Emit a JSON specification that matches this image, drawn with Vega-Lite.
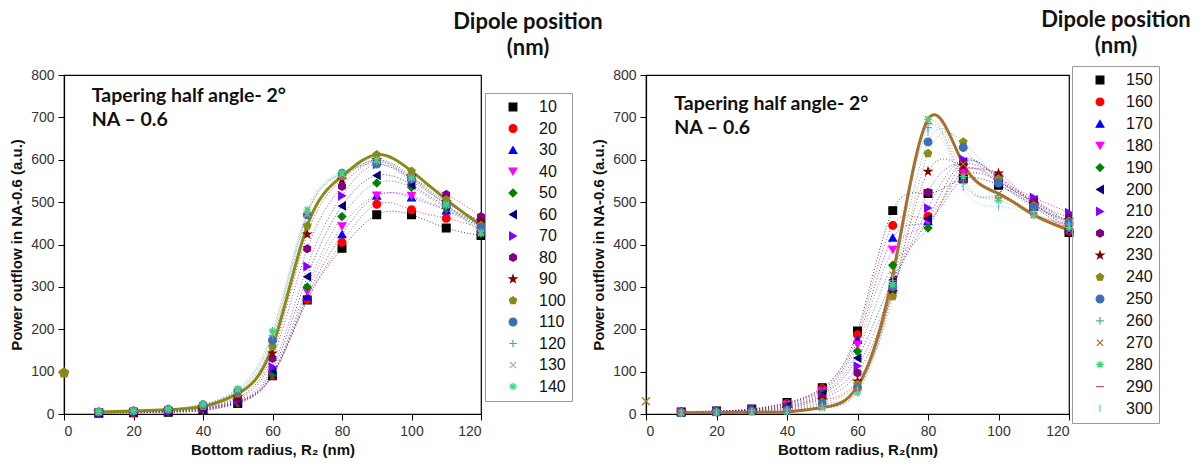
{
  "$schema": "https://vega.github.io/schema/vega-lite/v6.json",
  "background": "white",
  "padding": {"left": 9, "top": 7, "right": 0, "bottom": 0},
  "spacing": -13,
  "datasets": {
    "left": [
      {"pos":10,"radius":10,"power":2},{"pos":10,"radius":20,"power":3},{"pos":10,"radius":30,"power":4},{"pos":10,"radius":40,"power":8},{"pos":10,"radius":50,"power":25},{"pos":10,"radius":60,"power":90},{"pos":10,"radius":70,"power":269},{"pos":10,"radius":80,"power":391},{"pos":10,"radius":90,"power":470},{"pos":10,"radius":100,"power":470},{"pos":10,"radius":110,"power":439},{"pos":10,"radius":120,"power":421},
      {"pos":20,"radius":10,"power":2},{"pos":20,"radius":20,"power":3},{"pos":20,"radius":30,"power":5},{"pos":20,"radius":40,"power":9},{"pos":20,"radius":50,"power":27},{"pos":20,"radius":60,"power":92},{"pos":20,"radius":70,"power":270},{"pos":20,"radius":80,"power":405},{"pos":20,"radius":90,"power":495},{"pos":20,"radius":100,"power":482},{"pos":20,"radius":110,"power":462},{"pos":20,"radius":120,"power":439},
      {"pos":30,"radius":10,"power":3},{"pos":30,"radius":20,"power":4},{"pos":30,"radius":30,"power":5},{"pos":30,"radius":40,"power":10},{"pos":30,"radius":50,"power":28},{"pos":30,"radius":60,"power":94},{"pos":30,"radius":70,"power":277},{"pos":30,"radius":80,"power":424},{"pos":30,"radius":90,"power":515},{"pos":30,"radius":100,"power":511},{"pos":30,"radius":110,"power":480},{"pos":30,"radius":120,"power":440},
      {"pos":40,"radius":10,"power":3},{"pos":40,"radius":20,"power":4},{"pos":40,"radius":30,"power":6},{"pos":40,"radius":40,"power":11},{"pos":40,"radius":50,"power":29},{"pos":40,"radius":60,"power":92},{"pos":40,"radius":70,"power":289},{"pos":40,"radius":80,"power":443},{"pos":40,"radius":90,"power":516},{"pos":40,"radius":100,"power":515},{"pos":40,"radius":110,"power":482},{"pos":40,"radius":120,"power":445},
      {"pos":50,"radius":10,"power":3},{"pos":50,"radius":20,"power":5},{"pos":50,"radius":30,"power":6},{"pos":50,"radius":40,"power":12},{"pos":50,"radius":50,"power":28},{"pos":50,"radius":60,"power":95},{"pos":50,"radius":70,"power":300},{"pos":50,"radius":80,"power":466},{"pos":50,"radius":90,"power":545},{"pos":50,"radius":100,"power":535},{"pos":50,"radius":110,"power":486},{"pos":50,"radius":120,"power":450},
      {"pos":60,"radius":10,"power":3},{"pos":60,"radius":20,"power":5},{"pos":60,"radius":30,"power":7},{"pos":60,"radius":40,"power":13},{"pos":60,"radius":50,"power":30},{"pos":60,"radius":60,"power":103},{"pos":60,"radius":70,"power":324},{"pos":60,"radius":80,"power":491},{"pos":60,"radius":90,"power":563},{"pos":60,"radius":100,"power":541},{"pos":60,"radius":110,"power":490},{"pos":60,"radius":120,"power":452},
      {"pos":70,"radius":10,"power":4},{"pos":70,"radius":20,"power":5},{"pos":70,"radius":30,"power":8},{"pos":70,"radius":40,"power":14},{"pos":70,"radius":50,"power":33},{"pos":70,"radius":60,"power":111},{"pos":70,"radius":70,"power":348},{"pos":70,"radius":80,"power":515},{"pos":70,"radius":90,"power":589},{"pos":70,"radius":100,"power":550},{"pos":70,"radius":110,"power":498},{"pos":70,"radius":120,"power":455},
      {"pos":80,"radius":10,"power":4},{"pos":80,"radius":20,"power":6},{"pos":80,"radius":30,"power":8},{"pos":80,"radius":40,"power":15},{"pos":80,"radius":50,"power":36},{"pos":80,"radius":60,"power":131},{"pos":80,"radius":70,"power":390},{"pos":80,"radius":80,"power":537},{"pos":80,"radius":90,"power":597},{"pos":80,"radius":100,"power":556},{"pos":80,"radius":110,"power":518},{"pos":80,"radius":120,"power":466},
      {"pos":90,"radius":10,"power":4},{"pos":90,"radius":20,"power":6},{"pos":90,"radius":30,"power":9},{"pos":90,"radius":40,"power":16},{"pos":90,"radius":50,"power":40},{"pos":90,"radius":60,"power":143},{"pos":90,"radius":70,"power":424},{"pos":90,"radius":80,"power":553},{"pos":90,"radius":90,"power":600},{"pos":90,"radius":100,"power":561},{"pos":90,"radius":110,"power":500},{"pos":90,"radius":120,"power":455},
      {"pos":100,"radius":10,"power":5},{"pos":100,"radius":20,"power":7},{"pos":100,"radius":30,"power":10},{"pos":100,"radius":40,"power":18},{"pos":100,"radius":50,"power":48},{"pos":100,"radius":60,"power":159},{"pos":100,"radius":70,"power":444},{"pos":100,"radius":80,"power":561},{"pos":100,"radius":90,"power":612},{"pos":100,"radius":100,"power":573},{"pos":100,"radius":110,"power":506},{"pos":100,"radius":120,"power":445},
      {"pos":110,"radius":10,"power":5},{"pos":110,"radius":20,"power":7},{"pos":110,"radius":30,"power":11},{"pos":110,"radius":40,"power":22},{"pos":110,"radius":50,"power":55},{"pos":110,"radius":60,"power":174},{"pos":110,"radius":70,"power":470},{"pos":110,"radius":80,"power":568},{"pos":110,"radius":90,"power":590},{"pos":110,"radius":100,"power":555},{"pos":110,"radius":110,"power":493},{"pos":110,"radius":120,"power":440},
      {"pos":120,"radius":10,"power":5},{"pos":120,"radius":20,"power":7},{"pos":120,"radius":30,"power":11},{"pos":120,"radius":40,"power":22},{"pos":120,"radius":50,"power":56},{"pos":120,"radius":60,"power":185},{"pos":120,"radius":70,"power":474},{"pos":120,"radius":80,"power":565},{"pos":120,"radius":90,"power":595},{"pos":120,"radius":100,"power":555},{"pos":120,"radius":110,"power":493},{"pos":120,"radius":120,"power":430},
      {"pos":130,"radius":10,"power":5},{"pos":130,"radius":20,"power":7},{"pos":130,"radius":30,"power":11},{"pos":130,"radius":40,"power":23},{"pos":130,"radius":50,"power":57},{"pos":130,"radius":60,"power":190},{"pos":130,"radius":70,"power":472},{"pos":130,"radius":80,"power":566},{"pos":130,"radius":90,"power":598},{"pos":130,"radius":100,"power":557},{"pos":130,"radius":110,"power":494},{"pos":130,"radius":120,"power":428},
      {"pos":140,"radius":10,"power":6},{"pos":140,"radius":20,"power":8},{"pos":140,"radius":30,"power":12},{"pos":140,"radius":40,"power":24},{"pos":140,"radius":50,"power":60},{"pos":140,"radius":60,"power":196},{"pos":140,"radius":70,"power":482},{"pos":140,"radius":80,"power":570},{"pos":140,"radius":90,"power":600},{"pos":140,"radius":100,"power":558},{"pos":140,"radius":110,"power":495},{"pos":140,"radius":120,"power":425}
    ],
    "right": [
      {"pos":150,"radius":10,"power":5},{"pos":150,"radius":20,"power":7},{"pos":150,"radius":30,"power":12},{"pos":150,"radius":40,"power":27},{"pos":150,"radius":50,"power":62},{"pos":150,"radius":60,"power":196},{"pos":150,"radius":70,"power":480},{"pos":150,"radius":80,"power":520},{"pos":150,"radius":90,"power":555},{"pos":150,"radius":100,"power":540},{"pos":150,"radius":110,"power":490},{"pos":150,"radius":120,"power":428},
      {"pos":160,"radius":10,"power":5},{"pos":160,"radius":20,"power":7},{"pos":160,"radius":30,"power":11},{"pos":160,"radius":40,"power":25},{"pos":160,"radius":50,"power":60},{"pos":160,"radius":60,"power":187},{"pos":160,"radius":70,"power":445},{"pos":160,"radius":80,"power":467},{"pos":160,"radius":90,"power":574},{"pos":160,"radius":100,"power":545},{"pos":160,"radius":110,"power":495},{"pos":160,"radius":120,"power":432},
      {"pos":170,"radius":10,"power":5},{"pos":170,"radius":20,"power":7},{"pos":170,"radius":30,"power":11},{"pos":170,"radius":40,"power":24},{"pos":170,"radius":50,"power":57},{"pos":170,"radius":60,"power":175},{"pos":170,"radius":70,"power":416},{"pos":170,"radius":80,"power":455},{"pos":170,"radius":90,"power":558},{"pos":170,"radius":100,"power":548},{"pos":170,"radius":110,"power":497},{"pos":170,"radius":120,"power":436},
      {"pos":180,"radius":10,"power":5},{"pos":180,"radius":20,"power":6},{"pos":180,"radius":30,"power":10},{"pos":180,"radius":40,"power":22},{"pos":180,"radius":50,"power":54},{"pos":180,"radius":60,"power":164},{"pos":180,"radius":70,"power":388},{"pos":180,"radius":80,"power":452},{"pos":180,"radius":90,"power":572},{"pos":180,"radius":100,"power":550},{"pos":180,"radius":110,"power":500},{"pos":180,"radius":120,"power":440},
      {"pos":190,"radius":10,"power":4},{"pos":190,"radius":20,"power":6},{"pos":190,"radius":30,"power":10},{"pos":190,"radius":40,"power":20},{"pos":190,"radius":50,"power":50},{"pos":190,"radius":60,"power":148},{"pos":190,"radius":70,"power":351},{"pos":190,"radius":80,"power":439},{"pos":190,"radius":90,"power":590},{"pos":190,"radius":100,"power":552},{"pos":190,"radius":110,"power":502},{"pos":190,"radius":120,"power":445},
      {"pos":200,"radius":10,"power":4},{"pos":200,"radius":20,"power":6},{"pos":200,"radius":30,"power":9},{"pos":200,"radius":40,"power":18},{"pos":200,"radius":50,"power":46},{"pos":200,"radius":60,"power":132},{"pos":200,"radius":70,"power":316},{"pos":200,"radius":80,"power":461},{"pos":200,"radius":90,"power":595},{"pos":200,"radius":100,"power":555},{"pos":200,"radius":110,"power":505},{"pos":200,"radius":120,"power":450},
      {"pos":210,"radius":10,"power":4},{"pos":210,"radius":20,"power":6},{"pos":210,"radius":30,"power":9},{"pos":210,"radius":40,"power":16},{"pos":210,"radius":50,"power":42},{"pos":210,"radius":60,"power":113},{"pos":210,"radius":70,"power":300},{"pos":210,"radius":80,"power":486},{"pos":210,"radius":90,"power":601},{"pos":210,"radius":100,"power":558},{"pos":210,"radius":110,"power":511},{"pos":210,"radius":120,"power":475},
      {"pos":220,"radius":10,"power":4},{"pos":220,"radius":20,"power":5},{"pos":220,"radius":30,"power":8},{"pos":220,"radius":40,"power":14},{"pos":220,"radius":50,"power":38},{"pos":220,"radius":60,"power":97},{"pos":220,"radius":70,"power":290},{"pos":220,"radius":80,"power":523},{"pos":220,"radius":90,"power":592},{"pos":220,"radius":100,"power":560},{"pos":220,"radius":110,"power":500},{"pos":220,"radius":120,"power":465},
      {"pos":230,"radius":10,"power":4},{"pos":230,"radius":20,"power":5},{"pos":230,"radius":30,"power":8},{"pos":230,"radius":40,"power":12},{"pos":230,"radius":50,"power":33},{"pos":230,"radius":60,"power":77},{"pos":230,"radius":70,"power":288},{"pos":230,"radius":80,"power":572},{"pos":230,"radius":90,"power":585},{"pos":230,"radius":100,"power":568},{"pos":230,"radius":110,"power":495},{"pos":230,"radius":120,"power":458},
      {"pos":240,"radius":10,"power":3},{"pos":240,"radius":20,"power":5},{"pos":240,"radius":30,"power":7},{"pos":240,"radius":40,"power":10},{"pos":240,"radius":50,"power":28},{"pos":240,"radius":60,"power":70},{"pos":240,"radius":70,"power":277},{"pos":240,"radius":80,"power":615},{"pos":240,"radius":90,"power":642},{"pos":240,"radius":100,"power":555},{"pos":240,"radius":110,"power":492},{"pos":240,"radius":120,"power":455},
      {"pos":250,"radius":10,"power":3},{"pos":250,"radius":20,"power":5},{"pos":250,"radius":30,"power":7},{"pos":250,"radius":40,"power":9},{"pos":250,"radius":50,"power":24},{"pos":250,"radius":60,"power":62},{"pos":250,"radius":70,"power":300},{"pos":250,"radius":80,"power":642},{"pos":250,"radius":90,"power":629},{"pos":250,"radius":100,"power":545},{"pos":250,"radius":110,"power":488},{"pos":250,"radius":120,"power":452},
      {"pos":260,"radius":10,"power":3},{"pos":260,"radius":20,"power":4},{"pos":260,"radius":30,"power":6},{"pos":260,"radius":40,"power":8},{"pos":260,"radius":50,"power":20},{"pos":260,"radius":60,"power":60},{"pos":260,"radius":70,"power":310},{"pos":260,"radius":80,"power":676},{"pos":260,"radius":90,"power":545},{"pos":260,"radius":100,"power":515},{"pos":260,"radius":110,"power":475},{"pos":260,"radius":120,"power":448},
      {"pos":270,"radius":10,"power":3},{"pos":270,"radius":20,"power":3},{"pos":270,"radius":30,"power":4},{"pos":270,"radius":40,"power":5},{"pos":270,"radius":50,"power":15},{"pos":270,"radius":60,"power":65},{"pos":270,"radius":70,"power":328},{"pos":270,"radius":80,"power":695},{"pos":270,"radius":90,"power":590},{"pos":270,"radius":100,"power":520},{"pos":270,"radius":110,"power":470},{"pos":270,"radius":120,"power":434},
      {"pos":280,"radius":10,"power":3},{"pos":280,"radius":20,"power":4},{"pos":280,"radius":30,"power":5},{"pos":280,"radius":40,"power":6},{"pos":280,"radius":50,"power":15},{"pos":280,"radius":60,"power":50},{"pos":280,"radius":70,"power":305},{"pos":280,"radius":80,"power":695},{"pos":280,"radius":90,"power":560},{"pos":280,"radius":100,"power":504},{"pos":280,"radius":110,"power":468},{"pos":280,"radius":120,"power":440},
      {"pos":290,"radius":10,"power":3},{"pos":290,"radius":20,"power":4},{"pos":290,"radius":30,"power":5},{"pos":290,"radius":40,"power":7},{"pos":290,"radius":50,"power":18},{"pos":290,"radius":60,"power":55},{"pos":290,"radius":70,"power":315},{"pos":290,"radius":80,"power":685},{"pos":290,"radius":90,"power":550},{"pos":290,"radius":100,"power":510},{"pos":290,"radius":110,"power":472},{"pos":290,"radius":120,"power":445},
      {"pos":300,"radius":10,"power":3},{"pos":300,"radius":20,"power":4},{"pos":300,"radius":30,"power":5},{"pos":300,"radius":40,"power":7},{"pos":300,"radius":50,"power":18},{"pos":300,"radius":60,"power":55},{"pos":300,"radius":70,"power":320},{"pos":300,"radius":80,"power":665},{"pos":300,"radius":90,"power":535},{"pos":300,"radius":100,"power":490},{"pos":300,"radius":110,"power":470},{"pos":300,"radius":120,"power":445}
    ],
    "extraL": [{"pos":100,"radius":0,"power":97}],
    "extraR": [{"pos":270,"radius":0,"power":30}],
    "note": [{"label":"Tapering half angle- 2°\nNA – 0.6"}]
  },
  "hconcat": [
    {
      "width": 417,
      "height": 339,
      "title": {"text": ["Dipole position", "(nm)"], "anchor": "end", "frame": "group", "align": "center", "dx": 47, "font": "Lato", "fontSize": 22, "fontWeight": "bold", "lineHeight": 26, "color": "#111", "offset": 8},
      "layer": [
        {
          "data": {"name": "left"},
          "transform": [{"filter": "datum.pos != 100"}],
          "mark": {"type": "line", "interpolate": "natural", "strokeDash": [1, 2], "strokeWidth": 1, "opacity": 0.7, "clip": true},
          "encoding": {
            "x": {"field": "radius", "type": "quantitative", "scale": {"domain": [0, 120], "nice": false},
                  "axis": {"title": "Bottom radius, R₂ (nm)", "values": [0,10,20,30,40,50,60,70,80,90,100,110,120], "labelExpr": "datum.value % 20 === 0 ? datum.label : ''", "tickSize": {"condition": {"test": "datum.value % 20 === 0", "value": 6}, "value": 3}}},
            "y": {"field": "power", "type": "quantitative", "scale": {"domain": [0, 800], "nice": false},
                  "axis": {"title": "Power outflow in NA-0.6 (a.u.)", "values": [0,50,100,150,200,250,300,350,400,450,500,550,600,650,700,750,800], "labelExpr": "datum.value % 100 === 0 ? datum.label : ''", "tickSize": {"condition": {"test": "datum.value % 100 === 0", "value": 6}, "value": 3}}},
            "detail": {"field": "pos", "type": "nominal"},
            "stroke": {"field": "pos", "type": "nominal", "scale": {"domain": [10,20,30,40,50,60,70,80,90,100,110,120,130,140], "range": ["#000000","#FF0000","#0000FF","#FF00FF","#008000","#000080","#8000FF","#800080","#800000","#8A8A18","#3D6FB6","#4AA8A8","#C8A27C","#3ED67A"]}}
          }
        },
        {
          "data": {"name": "left"},
          "transform": [{"filter": "datum.pos == 100"}],
          "mark": {"type": "line", "interpolate": "natural", "strokeWidth": 3, "clip": true},
          "encoding": {
            "x": {"field": "radius", "type": "quantitative"},
            "y": {"field": "power", "type": "quantitative"},
            "stroke": {"field": "pos", "type": "nominal"}
          }
        },
        {
          "data": {"name": "left"},
          "mark": {"type": "point", "opacity": 1, "size": 60, "strokeWidth": 1.2},
          "encoding": {
            "x": {"field": "radius", "type": "quantitative"},
            "y": {"field": "power", "type": "quantitative"},
            "fill": {"field": "pos", "type": "nominal", "scale": {"domain": [10,20,30,40,50,60,70,80,90,100,110,120,130,140], "range": ["#000000","#FF0000","#0000FF","#FF00FF","#008000","#000080","#8000FF","#800080","#800000","#8A8A18","#3D6FB6","#4AA8A8","#C8A27C","#3ED67A"]},
                     "legend": {"orient": "none", "legendX": 421, "legendY": 18, "title": null, "rowPadding": 5.5}},
            "stroke": {"field": "pos", "type": "nominal",
                     "legend": {"orient": "none", "legendX": 421, "legendY": 18, "title": null, "rowPadding": 5.5}},
            "shape": {"field": "pos", "type": "nominal", "scale": {"domain": [10,20,30,40,50,60,70,80,90,100,110,120,130,140], "range": ["square","circle","triangle-up","triangle-down","diamond","triangle-left","triangle-right","M0,-1L0.866,-0.5L0.866,0.5L0,1L-0.866,0.5L-0.866,-0.5Z","M0,-1L0.2245,-0.309L0.951,-0.309L0.363,0.118L0.588,0.809L0,0.382L-0.588,0.809L-0.363,0.118L-0.951,-0.309L-0.2245,-0.309Z","M0,-1L0.951,-0.309L0.588,0.809L-0.588,0.809L-0.951,-0.309Z","circle","M-1,0L1,0M0,-1L0,1","M-0.8,-0.8L0.8,0.8M-0.8,0.8L0.8,-0.8","M-1,0L1,0M0,-1L0,1M-0.7,-0.7L0.7,0.7M-0.7,0.7L0.7,-0.7"]},
                     "legend": {"orient": "none", "legendX": 421, "legendY": 18, "title": null, "rowPadding": 5.5}}
          }
        },
        {
          "data": {"name": "extraL"},
          "mark": {"type": "point", "opacity": 1, "size": 100, "strokeWidth": 1.2},
          "encoding": {
            "x": {"field": "radius", "type": "quantitative"},
            "y": {"field": "power", "type": "quantitative"},
            "fill": {"field": "pos", "type": "nominal"},
            "stroke": {"field": "pos", "type": "nominal"},
            "shape": {"field": "pos", "type": "nominal"}
          }
        },
        {
          "data": {"name": "note"},
          "mark": {"type": "text", "align": "left", "baseline": "top", "font": "Lato", "fontSize": 19.5, "fontWeight": "bold", "lineHeight": 24, "color": "#111", "lineBreak": "\n"},
          "encoding": {
            "x": {"datum": 8},
            "y": {"datum": 772},
            "text": {"field": "label"}
          }
        }
      ]
    },
    {
      "width": 423,
      "height": 339,
      "title": {"text": ["Dipole position", "(nm)"], "anchor": "end", "frame": "group", "align": "center", "dx": 47, "font": "Lato", "fontSize": 22, "fontWeight": "bold", "lineHeight": 26, "color": "#111", "offset": 8},
      "layer": [
        {
          "data": {"name": "right"},
          "transform": [{"filter": "datum.pos != 270"}],
          "mark": {"type": "line", "interpolate": "natural", "strokeDash": [1, 2], "strokeWidth": 1, "opacity": 0.7, "clip": true},
          "encoding": {
            "x": {"field": "radius", "type": "quantitative", "scale": {"domain": [0, 120], "nice": false},
                  "axis": {"title": "Bottom radius, R₂(nm)", "values": [0,10,20,30,40,50,60,70,80,90,100,110,120], "labelExpr": "datum.value % 20 === 0 ? datum.label : ''", "tickSize": {"condition": {"test": "datum.value % 20 === 0", "value": 6}, "value": 3}}},
            "y": {"field": "power", "type": "quantitative", "scale": {"domain": [0, 800], "nice": false},
                  "axis": {"title": "Power outflow in NA-0.6 (a.u.)", "values": [0,50,100,150,200,250,300,350,400,450,500,550,600,650,700,750,800], "labelExpr": "datum.value % 100 === 0 ? datum.label : ''", "tickSize": {"condition": {"test": "datum.value % 100 === 0", "value": 6}, "value": 3}}},
            "detail": {"field": "pos", "type": "nominal"},
            "stroke": {"field": "pos", "type": "nominal", "scale": {"domain": [150,160,170,180,190,200,210,220,230,240,250,260,270,280,290,300], "range": ["#000000","#FF0000","#0000FF","#FF00FF","#008000","#000080","#8000FF","#800080","#800000","#8A8A18","#3D6FB6","#4AA8A8","#A8702C","#3ED67A","#D9476B","#62C6E0"]}}
          }
        },
        {
          "data": {"name": "right"},
          "transform": [{"filter": "datum.pos == 270"}],
          "mark": {"type": "line", "interpolate": "natural", "strokeWidth": 3, "clip": true},
          "encoding": {
            "x": {"field": "radius", "type": "quantitative"},
            "y": {"field": "power", "type": "quantitative"},
            "stroke": {"field": "pos", "type": "nominal"}
          }
        },
        {
          "data": {"name": "right"},
          "mark": {"type": "point", "opacity": 1, "size": 60, "strokeWidth": 1.2},
          "encoding": {
            "x": {"field": "radius", "type": "quantitative"},
            "y": {"field": "power", "type": "quantitative"},
            "fill": {"field": "pos", "type": "nominal", "scale": {"domain": [150,160,170,180,190,200,210,220,230,240,250,260,270,280,290,300], "range": ["#000000","#FF0000","#0000FF","#FF00FF","#008000","#000080","#8000FF","#800080","#800000","#8A8A18","#3D6FB6","#4AA8A8","#A8702C","#3ED67A","#D9476B","#62C6E0"]},
                     "legend": {"orient": "none", "legendX": 426, "legendY": -9, "title": null, "rowPadding": 5.9}},
            "stroke": {"field": "pos", "type": "nominal",
                     "legend": {"orient": "none", "legendX": 426, "legendY": -9, "title": null, "rowPadding": 5.9}},
            "shape": {"field": "pos", "type": "nominal", "scale": {"domain": [150,160,170,180,190,200,210,220,230,240,250,260,270,280,290,300], "range": ["square","circle","triangle-up","triangle-down","diamond","triangle-left","triangle-right","M0,-1L0.866,-0.5L0.866,0.5L0,1L-0.866,0.5L-0.866,-0.5Z","M0,-1L0.2245,-0.309L0.951,-0.309L0.363,0.118L0.588,0.809L0,0.382L-0.588,0.809L-0.363,0.118L-0.951,-0.309L-0.2245,-0.309Z","M0,-1L0.951,-0.309L0.588,0.809L-0.588,0.809L-0.951,-0.309Z","circle","M-1,0L1,0M0,-1L0,1","M-0.8,-0.8L0.8,0.8M-0.8,0.8L0.8,-0.8","M-1,0L1,0M0,-1L0,1M-0.7,-0.7L0.7,0.7M-0.7,0.7L0.7,-0.7","M-1,0L1,0","M0,-1L0,1"]},
                     "legend": {"orient": "none", "legendX": 426, "legendY": -9, "title": null, "rowPadding": 5.9}}
          }
        },
        {
          "data": {"name": "extraR"},
          "mark": {"type": "point", "opacity": 1, "size": 100, "strokeWidth": 1.2},
          "encoding": {
            "x": {"field": "radius", "type": "quantitative"},
            "y": {"field": "power", "type": "quantitative"},
            "fill": {"field": "pos", "type": "nominal"},
            "stroke": {"field": "pos", "type": "nominal"},
            "shape": {"field": "pos", "type": "nominal"}
          }
        },
        {
          "data": {"name": "note"},
          "mark": {"type": "text", "align": "left", "baseline": "top", "font": "Lato", "fontSize": 19.5, "fontWeight": "bold", "lineHeight": 24, "color": "#111", "lineBreak": "\n"},
          "encoding": {
            "x": {"datum": 8},
            "y": {"datum": 752},
            "text": {"field": "label"}
          }
        }
      ]
    }
  ],
  "resolve": {"scale": {"fill": "independent", "stroke": "independent", "shape": "independent"}},
  "config": {
    "view": {"stroke": "#000", "strokeWidth": 1.2},
    "axis": {"domainColor": "#000", "domainWidth": 1.2, "tickColor": "#000", "tickWidth": 1, "labelFont": "Liberation Sans", "labelFontSize": 14, "labelColor": "#333", "titleFont": "Liberation Sans", "titleFontSize": 15, "titleFontWeight": "bold", "titleColor": "#111", "grid": false, "labelPadding": 4},
    "axisY": {"titlePadding": 6},
    "legend": {"strokeColor": "#999", "padding": 6, "labelFont": "Liberation Sans", "labelFontSize": 16, "labelColor": "#111", "symbolSize": 60, "symbolOffset": 14, "labelOffset": 18, "symbolOpacity": 1, "symbolStrokeWidth": 1.2}
  }
}
